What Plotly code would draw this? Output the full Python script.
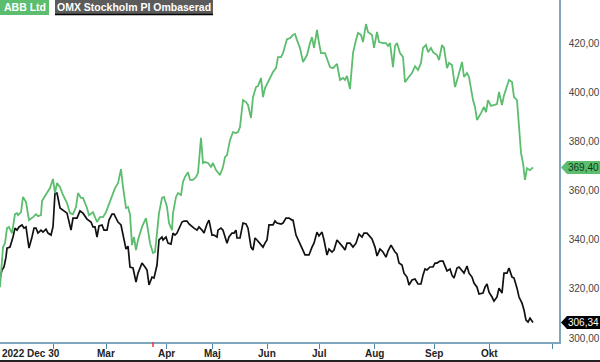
import plotly.graph_objects as go

# session positions (chart time scale) and closing values
abb_t = [0, 3, 5, 7, 9, 12, 15, 17, 18, 21, 23, 26, 29, 32, 33, 36, 38, 41, 42, 45, 47, 50, 53, 55, 57, 60,
         63, 67, 70, 73, 76, 78, 81, 83, 87, 89, 93, 95, 97, 100, 103, 106, 110, 115, 118, 121, 123, 126, 128,
         130, 132, 134, 136, 138, 142, 146, 148, 150, 153, 155, 157, 159, 162, 164, 167, 169, 172, 173, 176,
         178, 181, 183, 185, 188, 190, 193, 196, 198, 201, 203, 205, 208, 211, 213, 216, 218, 220, 223, 225,
         227, 230, 233, 236, 238, 240, 243, 246, 248, 251, 253, 256, 258, 261, 263, 265, 267, 270, 273, 276,
         278, 281, 283, 287, 290, 293, 295, 297, 300, 303, 307, 310, 312, 314, 317, 319, 321, 325, 328, 330,
         333, 337, 340, 343, 345, 347, 350, 353, 356, 358, 361, 363, 366, 368, 372, 374, 377, 379, 383, 386,
         388, 390, 393, 395, 397, 400, 403, 405, 408, 412, 415, 418, 421, 423, 426, 428, 431, 433, 437, 439,
         442, 444, 447, 449, 452, 455, 458, 462, 464, 467, 469, 473, 475, 477, 481, 484, 486, 488, 491, 494,
         497, 499, 502, 504, 507, 509, 512, 514, 517, 521, 523, 525, 527, 530, 533]
abb_v = [320.7, 337.0, 338.6, 344.7, 345.2, 342.7, 350.4, 350.8, 350.0, 351.2, 357.4, 355.3, 348.0, 348.8,
         349.2, 350.4, 349.6, 350.0, 355.7, 357.8, 359.0, 361.0, 364.7, 359.0, 363.0, 361.4,
         358.2, 354.9, 350.8, 350.4, 353.3, 359.0, 357.0, 357.0, 352.9, 350.0, 351.2, 349.2, 347.2, 349.2,
         349.2, 351.2, 355.3, 361.0, 363.0, 368.7, 361.4, 352.9, 353.3,
         350.4, 337.8, 341.1, 335.8, 339.9, 345.2, 348.8, 343.9, 338.6, 334.6, 335.0, 342.7, 350.8, 357.0,
         357.4, 353.3, 346.8, 343.9, 350.8, 357.4,
         359.0, 358.2, 363.5, 365.5, 367.5, 364.3, 364.3, 365.5, 367.1, 381.4, 371.2, 371.6, 371.2, 369.6,
         371.2, 368.3, 367.1, 366.3, 369.6, 373.6,
         374.4, 380.5, 383.8, 383.4, 383.8, 385.8, 396.8, 396.0, 394.8, 389.5, 398.0, 402.1, 402.5, 405.8,
         398.0, 401.7, 403.3, 405.8, 408.2, 409.8,
         414.3, 414.3, 415.9, 421.6, 422.0, 423.3, 423.7, 421.2, 418.0, 412.3, 415.1, 420.0, 422.4, 418.0,
         425.3, 420.0, 415.9, 415.9, 411.9, 410.2,
         409.8, 411.5, 405.0, 405.8, 405.0, 406.6, 401.3, 415.9, 421.2, 424.1, 423.3, 420.4, 427.7, 424.5,
         423.3, 418.0, 424.5, 420.4, 420.0, 420.0,
         418.8, 420.0, 410.2, 418.8, 420.0, 415.9, 414.3, 404.1, 405.8, 407.8, 410.6, 409.0, 411.9, 418.0,
         419.2, 416.3, 418.0, 416.3, 415.1, 413.1,
         419.2, 418.0, 409.8, 411.9, 411.1, 402.1, 406.2, 412.3, 406.2, 407.8, 406.2, 396.8, 394.0, 388.7,
         391.5, 394.0, 391.9, 396.8, 394.4, 394.8,
         395.2, 400.1, 394.8, 398.8, 402.9, 405.0, 404.1, 398.0, 396.8, 375.3, 371.2, 364.3, 369.1, 368.3, 369.40]

omx_t = [0, 2, 4, 6, 7, 10, 13, 15, 17, 19, 22, 24, 26, 29, 32, 34, 36, 38, 41, 43, 46, 48, 51, 53, 55, 57,
         60, 63, 67, 71, 73, 77, 80, 83, 85, 87, 91, 93, 95, 97, 99, 102, 104, 107, 109, 112, 114, 116, 118,
         121, 123, 126, 128, 130, 133, 136, 138, 142, 145, 147, 149, 152, 154, 157, 159, 162, 163, 166, 168,
         171, 173, 175, 177, 179, 182, 184, 187, 189, 192, 194, 197, 199, 202, 204, 207, 209, 212, 214, 217,
         218, 221, 223, 226, 227, 229, 232, 234, 236, 237, 240, 243, 246, 248, 251, 253, 255, 257, 260, 263,
         265, 267, 269, 273, 275, 277, 281, 283, 286, 289, 292, 293, 296, 298, 302, 305, 309, 312, 314, 317,
         319, 322, 324, 327, 329, 332, 334, 337, 340, 343, 345, 347, 350, 353, 356, 359, 362, 364, 367, 369,
         372, 375, 377, 380, 383, 386, 388, 391, 393, 395, 397, 399, 402, 404, 407, 409, 412, 415, 418, 421,
         423, 425, 427, 430, 433, 435, 437, 440, 443, 445, 447, 450, 452, 454, 457, 459, 462, 464, 467, 469,
         472, 474, 477, 479, 483, 485, 487, 489, 492, 494, 497, 499, 502, 504, 507, 509, 512, 514, 517, 519,
         522, 524, 526, 528, 530, 533]
omx_v = [324.4, 327.7, 328.9, 332.9, 336.6, 337.0, 341.1, 344.7, 343.9, 345.2, 346.0, 344.7, 345.2, 336.6,
         341.1, 344.7, 344.7, 342.7, 343.9, 343.1, 344.3, 342.7, 341.9, 345.2, 359.0, 359.0,
         352.9, 352.1, 350.8, 343.9, 348.8, 348.8, 351.7, 350.8, 349.6, 348.4, 347.2, 345.2, 345.2, 341.1,
         345.6, 346.0, 343.9, 343.9, 348.0, 350.4, 350.4, 348.4, 347.2,
         346.0, 341.9, 336.2, 337.4, 328.9, 328.5, 322.8, 326.4, 330.5, 328.9, 327.7, 321.6, 324.8, 324.4,
         329.7, 339.9, 341.1, 339.9, 341.1, 338.6,
         338.2, 342.7, 341.9, 342.7, 344.7, 347.2, 347.6, 347.6, 346.4, 345.2, 344.7, 343.9, 345.2, 343.9,
         342.7, 346.4, 348.0, 341.9, 341.9, 341.1,
         343.9, 344.7, 343.9, 339.9, 338.6, 341.1, 342.7, 342.7, 343.9, 340.7, 340.7, 346.8, 346.4, 344.7,
         337.0, 335.8, 340.7, 339.9, 338.6, 337.0,
         338.6, 339.9, 346.0, 346.0, 347.6, 346.8, 346.4, 346.8, 348.8, 348.8, 348.0, 348.0, 341.9, 339.9,
         336.6, 333.8, 333.8, 337.0, 338.6, 343.1,
         341.5, 343.1, 339.9, 333.8, 336.2, 335.0, 335.8, 339.9, 338.6, 337.0, 335.8, 338.6, 338.6, 337.0,
         338.6, 342.3, 341.1, 342.7, 342.7, 341.9,
         340.3, 337.0, 333.4, 336.2, 335.0, 332.9, 335.4, 337.8, 336.2, 335.0, 334.2, 330.5, 329.7, 326.4,
         324.8, 321.6, 323.6, 324.0, 322.0, 322.0,
         325.6, 328.1, 327.7, 328.9, 328.9, 330.5, 330.5, 331.3, 331.3, 328.9, 327.3, 328.1, 325.6, 324.4,
         328.5, 328.9, 327.3, 326.4, 329.3, 326.4,
         324.8, 322.4, 320.7, 317.9, 318.3, 320.7, 322.0, 318.7, 316.7, 315.0, 316.7, 320.3, 318.3, 326.4,
         326.4, 328.5, 324.8, 324.4, 320.3, 316.7,
         314.2, 311.4, 307.3, 306.5, 308.1, 306.34]

tick_pos = [53, 106, 166, 212, 267, 319, 374, 434, 489, 552]
tick_lbl = ["2022 Dec 30", "Mar", "Apr", "Maj", "Jun", "Jul", "Aug", "Sep", "Okt", ""]
y_ticks = [300, 320, 340, 360, 380, 400, 420]
marker_pos = 153  # red event tick on the time axis

GREEN = "#5cbd6e"
BLACK = "#111111"
AXIS = "#7fa7bc"
FONT = "Liberation Sans, Arial, sans-serif"

W, H = 600, 362
ML, MR, MT, MB = 0, 41, 0, 20
pw = W - ML - MR
ph = H - MT - MB
y_lo, y_hi = 298.4, 437.5
units_per_px = (y_hi - y_lo) / ph

fig = go.Figure()
fig.add_trace(go.Scatter(x=omx_t, y=omx_v, mode="lines",
                         line=dict(color=BLACK, width=1.7), name="OMX Stockholm PI Ombaserad"))
fig.add_trace(go.Scatter(x=abb_t, y=abb_v, mode="lines",
                         line=dict(color=GREEN, width=1.8), name="ABB Ltd"))

fig.update_layout(
    width=W, height=H, margin=dict(l=ML, r=MR, t=MT, b=MB, autoexpand=False),
    paper_bgcolor="white", plot_bgcolor="white", showlegend=False,
    separators=", ", font=dict(family=FONT),
    xaxis=dict(range=[0, pw], showgrid=False, zeroline=False, showline=True, linecolor=AXIS,
               linewidth=1.5, ticks="outside", ticklen=5, tickcolor="#4f86a3", tickwidth=1,
               tickvals=tick_pos, showticklabels=False,
               automargin=False, fixedrange=True),
    yaxis=dict(range=[y_lo, y_hi], side="right", showgrid=False, zeroline=False, showline=True,
               linecolor=AXIS, linewidth=1.5, ticks="", tickvals=y_ticks, tickformat=".2f",
               ticklabelstandoff=6,
               tickfont=dict(family=FONT, size=10, color="#444444"),
               automargin=False, fixedrange=True),
)

# time-axis labels (first one is left-aligned at the chart edge, ending at its tick)
for i, (pos, lbl) in enumerate(zip(tick_pos, tick_lbl)):
    if not lbl:
        continue
    if i == 0:
        fig.add_annotation(x=0, y=-(11 / ph), xref="paper", yref="paper",
                           text=f"<b>{lbl}</b>", showarrow=False, xanchor="left", yanchor="middle",
                           font=dict(family=FONT, size=10, color="#222222"))
    else:
        fig.add_annotation(x=pos, y=-(11 / ph), xref="x", yref="paper",
                           text=f"<b>{lbl}</b>", showarrow=False, xanchor="center", yanchor="middle",
                           font=dict(family=FONT, size=10, color="#222222"))

# red event tick
fig.add_shape(type="line", x0=marker_pos, x1=marker_pos, y0=0, y1=-5 / ph, xref="x", yref="paper",
              line=dict(color="#e8383d", width=1.5))

# bottom border
fig.add_shape(type="line", x0=0, x1=W / pw, y0=-(19 / ph), y1=-(19 / ph), xref="paper", yref="paper",
              line=dict(color="#222222", width=2))

# legend tags at top-left
fig.add_shape(type="rect", x0=0, x1=49 / pw, y0=1 - 15 / ph, y1=1, xref="paper", yref="paper",
              fillcolor=GREEN, line=dict(width=0), layer="above")
fig.add_annotation(x=24.5 / pw, y=1 - 7.5 / ph, xref="paper", yref="paper", xanchor="center",
                   yanchor="middle", text="<b>ABB Ltd</b>", showarrow=False,
                   font=dict(family=FONT, size=10.5, color="white"))
fig.add_shape(type="rect", x0=55 / pw, x1=213 / pw, y0=1 - 14 / ph, y1=1, xref="paper", yref="paper",
              fillcolor="#5b5b5b", line=dict(width=0), layer="above")
fig.add_shape(type="line", x0=55 / pw, x1=213 / pw, y0=1 - 14.5 / ph, y1=1 - 14.5 / ph,
              xref="paper", yref="paper", line=dict(color="#000000", width=1.5), layer="above")
fig.add_annotation(x=134 / pw, y=1 - 7 / ph, xref="paper", yref="paper", xanchor="center",
                   yanchor="middle", text="<b>OMX Stockholm PI Ombaserad</b>", showarrow=False,
                   font=dict(family=FONT, size=10.5, color="white"))

# last-value badges on the right axis
def badge(val, fill, txt_color):
    half = 6.5 * units_per_px
    x_tip = (pw + 2) / pw
    x_base = (pw + 8) / pw
    x_end = W / pw
    fig.add_shape(type="path", xref="paper", yref="y",
                  path=f"M {x_tip} {val} L {x_base} {val + half} L {x_end} {val + half} "
                       f"L {x_end} {val - half} L {x_base} {val - half} Z",
                  fillcolor=fill, line=dict(width=0))
    fig.add_annotation(x=(pw + 7) / pw, y=val, xref="paper", yref="y", xanchor="left",
                       yanchor="middle", text=f"{val:.2f}".replace(".", ","), showarrow=False,
                       font=dict(family=FONT, size=10, color=txt_color))

badge(abb_v[-1], GREEN, "#0d3b16")
badge(omx_v[-1], "#000000", "white")

fig.write_html("out.html")
